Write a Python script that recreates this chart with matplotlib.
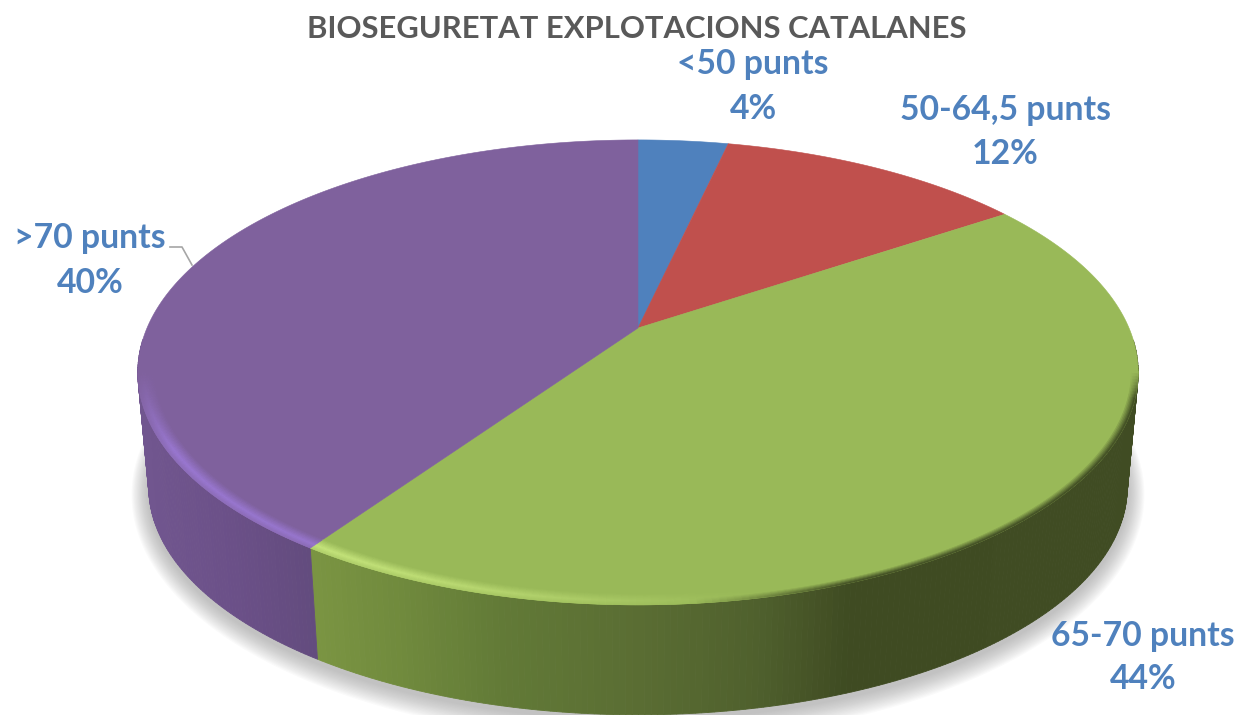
import numpy as np
import matplotlib
matplotlib.use("Agg")
import matplotlib.pyplot as plt
from matplotlib.colors import to_rgb

# data <<<
categories = ["<50 punts", "50-64,5 punts", "65-70 punts", ">70 punts"]
shares = [3.5, 12.0, 44.0, 40.5]
share_labels = ["4%", "12%", "44%", "40%"]
top_colors = ["#4f81bd", "#c0504d", "#99b958", "#7f619d"]
title = "BIOSEGURETAT EXPLOTACIONS CATALANES"
# >>>

# pie geometry in picture pixels <<<
CX, CY = 638, 328
SX, SY = 491, 224
K = 0.191
LOW_DY = 116
LOW_SCALE = 0.978


def project(phi, r=1.0, low=False):
    # phi clockwise from the top of the circle
    u = r * np.sin(phi)
    v = r * np.cos(phi)
    w = 1 + K * v
    x, y = SX * u / w, -SY * v / w
    if low:
        return CX + LOW_SCALE * x, CY + LOW_DY + LOW_SCALE * y
    return CX + x, CY + y


def mix(a, b, t):
    a, b = np.array(to_rgb(a)), np.array(to_rgb(b))
    return tuple(a + (b - a) * np.clip(t, 0, 1))
# >>>

# side shading, picked along screen x <<<
green_x = [316, 400, 500, 640, 760, 850, 1140]
green_side = ["#7a9442", "#708a3d", "#627a37", "#5a6d33", "#4f602d", "#3f4b22", "#404c23"]
purple_x = [140, 230, 318]
purple_side = ["#71568f", "#6b5088", "#624b7d"]


def side_color(x, xs, cols):
    rgb = np.array([to_rgb(c) for c in cols])
    return tuple(np.interp(x, xs, rgb[:, i]) for i in range(3))
# >>>

fig, ax = plt.subplots(figsize=(12.38, 7.15), dpi=100)
ax.set_position([0, 0, 1, 1])
ax.set_xlim(0, 1238)
ax.set_ylim(715, 0)
ax.axis("off")

edges = np.radians(np.concatenate([[0], np.cumsum(shares)]) * 3.6)

# soft shadow under the lower rim
phi_all = np.linspace(0, 2 * np.pi, 361)
for i in range(16):
    lx, ly = project(phi_all, low=True)
    sc = 1 + 0.0022 * (16 - i)
    ax.fill(CX + (lx - CX) * sc, CY + 120 + (ly - CY - 116) * (1 + 0.005 * (16 - i)),
            color="#8a8a8a", alpha=0.04, lw=0, zorder=1)

# sides of the two slices that face the viewer
for idx, xs, cols in [(2, green_x, green_side), (3, purple_x, purple_side)]:
    start, stop = edges[idx], edges[idx + 1]
    steps = np.linspace(start, stop, 260)
    for a, b in zip(steps[:-1], steps[1:]):
        if np.cos((a + b) / 2) > -0.05:
            continue
        tx, ty = project(np.array([a, b]))
        lx, ly = project(np.array([a, b]), low=True)
        c = side_color(tx.mean(), xs, cols)
        ax.fill([tx[0], tx[1], lx[1], lx[0]], [ty[0], ty[1], ly[1], ly[0]],
                color=c, lw=0.6, zorder=2)

# flat top of each slice
for i, col in enumerate(top_colors):
    phi = np.linspace(edges[i], edges[i + 1], 200)
    px, py = project(phi)
    ax.fill(np.r_[CX, px], np.r_[CY, py], color=col, lw=0.4, zorder=3)

# bevel along the front rim
rings = np.linspace(0.968, 1.0, 13)
profile = np.interp(rings, [0.968, 0.99, 1.0], [0.0, 1.0, 0.6])
for idx, hi, xs, strength in [
    (2, "#c6e57c", [316, 420, 560, 700, 780], [1.0, 0.85, 0.5, 0.12, 0.0]),
    (3, "#9a78d2", [140, 175, 318], [1.0, 1.0, 0.95]),
]:
    steps = np.linspace(edges[idx], edges[idx + 1], 220)
    for a, b in zip(steps[:-1], steps[1:]):
        front = -np.cos((a + b) / 2)
        if front < 0.19:
            continue
        fade = np.interp(front, [0.19, 0.5], [0, 1])
        for r0, r1, p in zip(rings[:-1], rings[1:], profile[1:]):
            x0, y0 = project(np.array([a, b]), r0)
            x1, y1 = project(np.array([a, b]), r1)
            s = np.interp(x1.mean(), xs, strength) * fade
            c = mix(top_colors[idx], hi, p * s)
            # dark blur on the shaded edge of the green slice
            if idx == 2:
                dark = np.clip((x1.mean() - 690) / 160, 0, 1)
                dark *= np.clip((r0 - 0.984) / 0.014, 0, 1)
                dark *= np.interp(front, [0.19, 0.3], [0, 1])
                c = mix(c, "#404c23", dark)
            ax.fill([x0[0], x0[1], x1[1], x1[0]], [y0[0], y0[1], y1[1], y1[0]],
                    color=c, lw=0.4, zorder=4)

# texts
txt = dict(family="Lato", weight="bold", ha="center", va="center")
ax.text(637, 29, title, color="#595959", fontsize=22.3, **txt)
name_pos = [(753, 64), (1005, 110), (1143, 636), (90, 238)]
pct_pos = [(753, 109), (1005, 154), (1143, 679), (90, 283)]
for name, pct, p0, p1 in zip(categories, share_labels, name_pos, pct_pos):
    ax.text(p0[0], p0[1], name, color="#4f81bd", fontsize=24.3, **txt)
    ax.text(p1[0], p1[1], pct, color="#4f81bd", fontsize=24.3, **txt)

# leader line for the >70 label
ax.plot([170, 182, 192], [247, 247, 265], color="#a6a6a6", lw=1.2, zorder=5)

fig.savefig("out.png", dpi=100)
